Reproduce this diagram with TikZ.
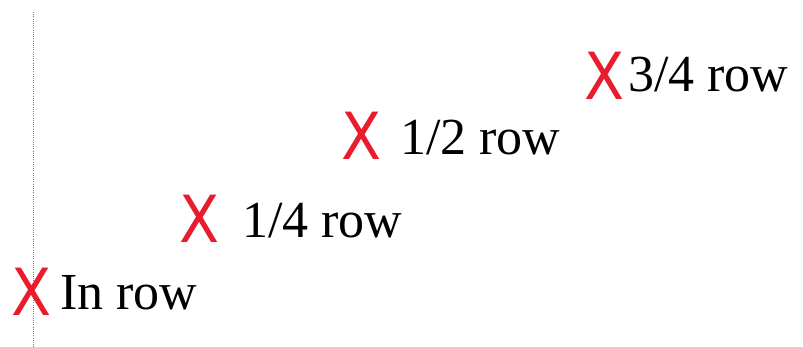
\documentclass[tikz,border=0pt]{standalone}
\usepackage{fontspec}
\setmainfont{Liberation Serif}
\newfontfamily\markfont{DejaVu Sans}
\definecolor{markred}{RGB}{232,28,44}
\begin{document}
\begin{tikzpicture}[x=1pt,y=1pt,
  seatmark/.style={inner sep=0pt, anchor=base west, text=markred, font=\markfont\fontsize{65}{65}\selectfont, xscale=0.9},
  rowlabel/.style={inner sep=0pt, anchor=base west, font=\fontsize{52}{52}\selectfont}]
  \useasboundingbox (0,0) rectangle (803,347);
  % reference line
  \coordinate (top) at (33,335);
  \coordinate (bottom) at (33,0);
  \draw[gray, very thin, dotted] (top) -- (bottom);

  % marks and labels: mark x / mark base / label x / label base / name / text
  \foreach \mx/\my/\lx/\ly/\nm/\lbl in {11/31/60/37/in/In row, 179/104/242/109/quarter/1\slash 4 row, 341/187/400/192/half/1\slash 2 row, 584/247/628/255/threeq/3\slash 4 row} {
    \node[seatmark] (\nm-x) at (\mx,\my) {X};
    \node[rowlabel] (\nm-label) at (\lx,\ly) {\lbl};
  }
\end{tikzpicture}
\end{document}
